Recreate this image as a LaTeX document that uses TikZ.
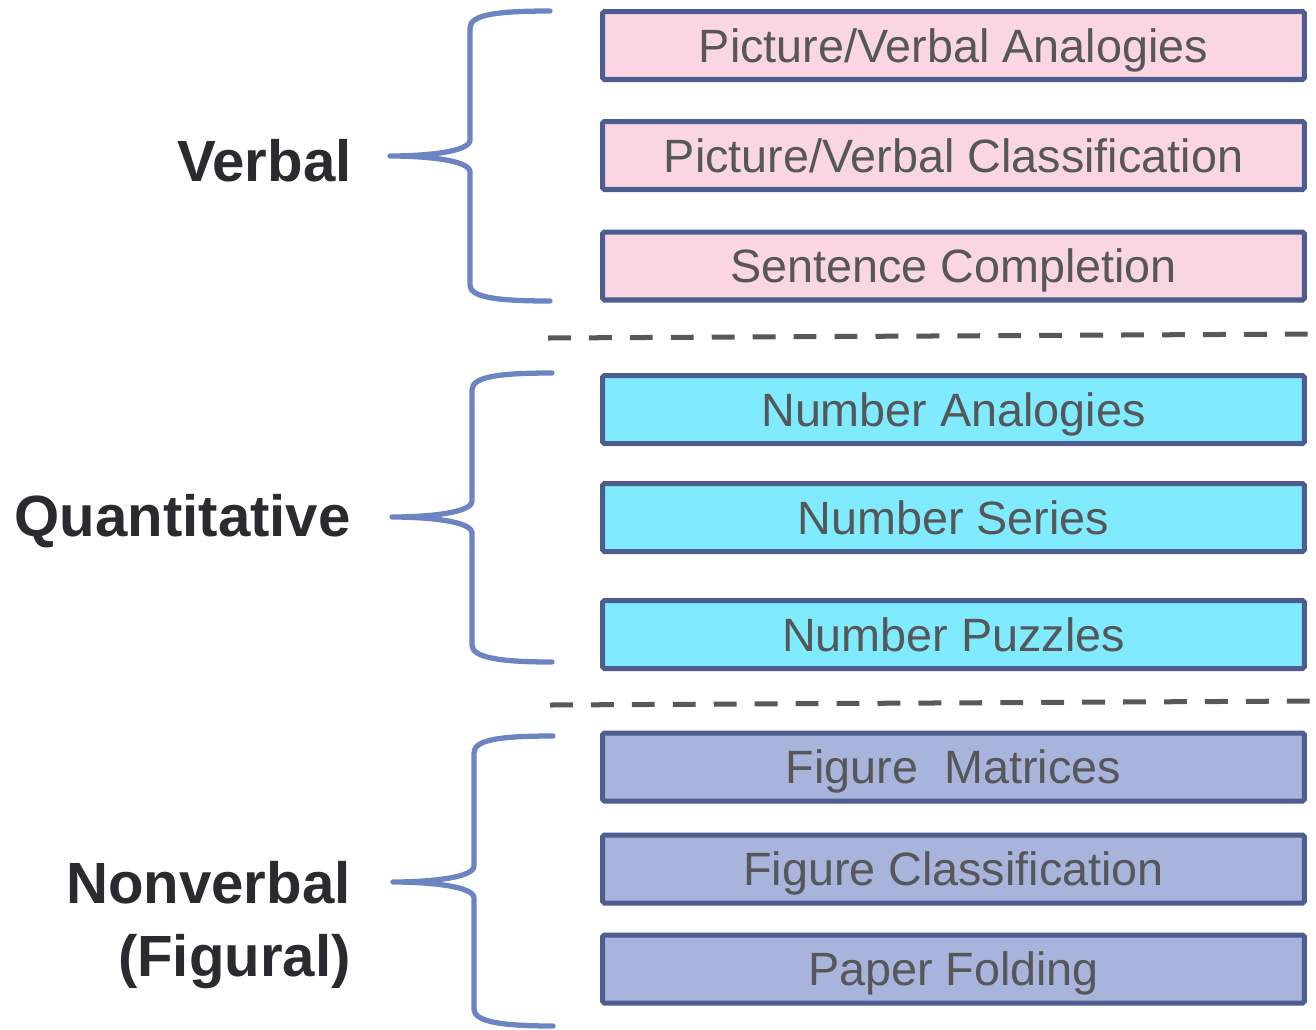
\documentclass[tikz,border=0pt]{standalone}
\usepackage{fontspec}
\setmainfont{Liberation Sans}
\usetikzlibrary{positioning}
\definecolor{verbalpink}{HTML}{FAD6E3}
\definecolor{quantcyan}{HTML}{80EAFF}
\definecolor{figurallav}{HTML}{A8B4DB}
\definecolor{boxedge}{HTML}{4E5D8F}
\definecolor{bracecol}{HTML}{6D84C2}
\definecolor{sepgray}{HTML}{55595C}
\definecolor{subtext}{HTML}{555759}
\definecolor{headtext}{HTML}{2A2B2E}
\tikzset{
    subtest/.style={draw=boxedge, line width=2.85pt, rounded corners=1pt,
        minimum width=14.04cm, minimum height=1.36cm, inner sep=0pt,
        text=subtext, font=\fontsize{26.6}{32}\selectfont,
        text height=19pt, text depth=0pt},
    verbalbox/.style={subtest, fill=verbalpink},
    quantbox/.style={subtest, fill=quantcyan},
    figuralbox/.style={subtest, fill=figurallav},
    battery/.style={inner sep=0pt, text=headtext, align=right,
        font=\fontsize{33.1}{41.8}\selectfont\bfseries},
    oneline/.style={text height=23.7pt, text depth=0pt},
    groupbrace/.style={draw=bracecol, line width=3pt, line cap=round, line join=round},
    separator/.style={draw=sepgray, line width=2.85pt, dash pattern=on 13pt off 10.3pt}
}

\begin{document}
\begin{tikzpicture}[x=0.02cm, y=-0.02cm]
    \useasboundingbox (0,0) rectangle (1316,1029);

    % verbal battery
    \node[verbalbox] (picana) at (953.5,45.5) {Picture/Verbal Analogies};
    \node[verbalbox] (piccls) at (953.5,155.5) {Picture/Verbal Classification};
    \node[verbalbox] (sentc) at (953.5,266) {Sentence Completion};
    \node[battery, oneline, anchor=east] (verbal) at (352,160.5) {Verbal};
    \draw[groupbrace] (550,11) .. controls (495,11) and (470,15) .. (470,28) -- (470,140)
        .. controls (470,152) and (425,156) .. (390,156)
        .. controls (425,156) and (470,160) .. (470,172) -- (470,285)
        .. controls (470,297) and (495,301) .. (550,301);

    \draw[separator] (548,338) -- (1312,334);

    % quantitative battery
    \node[quantbox] (numana) at (953.5,409.5) {Number Analogies};
    \node[quantbox] (numser) at (953.5,517.5) {Number Series};
    \node[quantbox] (numpuz) at (953.5,634.5) {Number Puzzles};
    \node[battery, oneline, anchor=east] (quant) at (351,516) {Quantitative};
    \draw[groupbrace] (552,373) .. controls (497,373) and (472,377) .. (472,390) -- (472,501)
        .. controls (472,513) and (427,517) .. (392,517)
        .. controls (427,517) and (472,521) .. (472,533) -- (472,645)
        .. controls (472,657) and (497,662) .. (552,662);

    \draw[separator] (550,705) -- (1312,701);

    % nonverbal battery
    \node[figuralbox] (figmat) at (953.5,767) {Figure\ \ Matrices};
    \node[figuralbox] (figcls) at (953.5,869) {Figure Classification};
    \node[figuralbox] (paper) at (953.5,969) {Paper Folding};
    \node[battery, anchor=north east] (nonverbal) at (351,861) {Nonverbal\\(Figural)};
    \draw[groupbrace] (553,736) .. controls (498,736) and (474,740) .. (474,753) -- (474,866)
        .. controls (474,878) and (428,882) .. (393,882)
        .. controls (428,882) and (474,886) .. (474,898) -- (474,1009)
        .. controls (474,1021) and (498,1026) .. (553,1026);
\end{tikzpicture}
\end{document}
